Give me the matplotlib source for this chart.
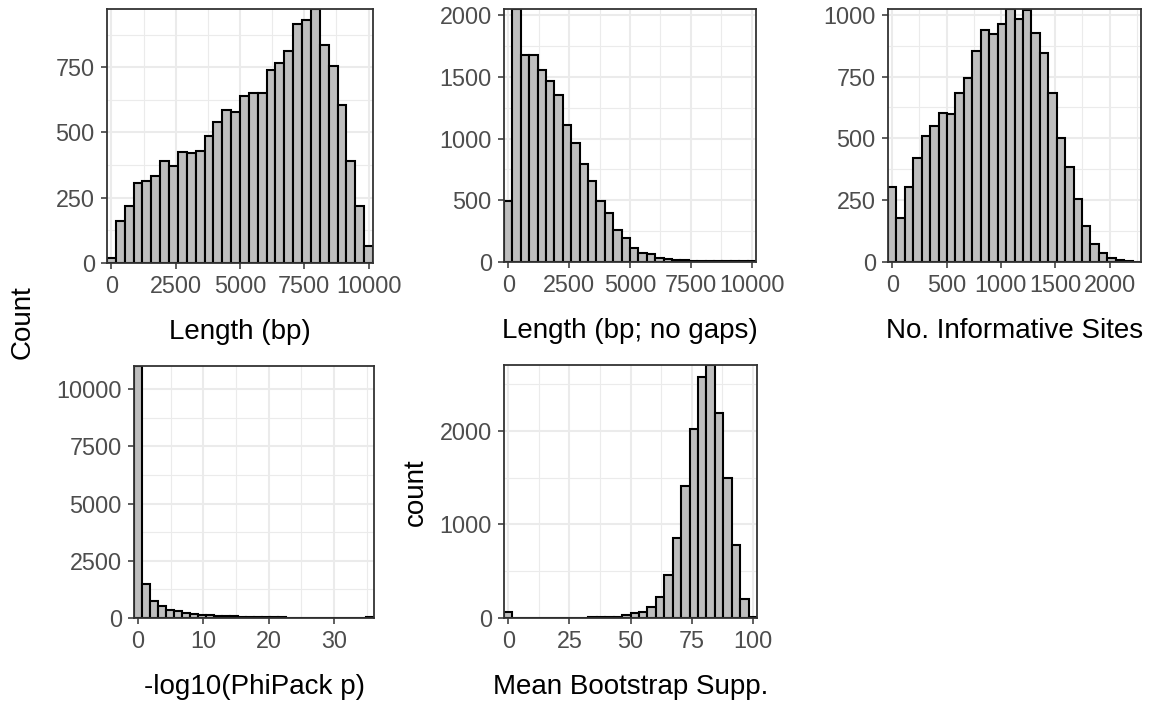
import numpy as np
import matplotlib
matplotlib.use('Agg')
import matplotlib.pyplot as plt
from matplotlib.ticker import MultipleLocator

plt.rcParams['font.family'] = ['Liberation Sans', 'DejaVu Sans']

# ---- data: 30-bin histograms (data range, counts per bin) ----
len_range = (0, 10000)
len_counts = [20, 159, 218, 308, 315, 335, 389, 370, 426, 420,
              430, 488, 541, 586, 580, 639, 650, 653, 740, 768,
              811, 915, 932, 973, 836, 756, 607, 389, 219, 65]

nogap_range = (0, 10000)
nogap_counts = [496, 2050, 1675, 1675, 1558, 1463, 1355, 1111, 967, 791,
                658, 496, 393, 263, 195, 114, 76, 62, 30, 24,
                16, 14, 11, 8, 8, 5, 5, 8, 5, 5]

inf_range = (0, 2250)
inf_counts = [304, 176, 304, 419, 511, 551, 601, 599, 682, 746,
              855, 939, 921, 962, 1023, 983, 1020, 925, 844, 685,
              503, 385, 253, 145, 74, 38, 18, 7, 3, 1]

phi_range = (0, 35.5)
phi_counts = [11010, 1482, 756, 538, 363, 290, 218, 174, 145, 116,
              100, 82, 68, 56, 46, 38, 32, 27, 22, 18,
              15, 12, 10, 9, 8, 7, 6, 5, 8, 25]

boot_range = (0, 100)
boot_counts = [60, 3, 2, 2, 2, 3, 3, 4, 5, 5,
               6, 8, 10, 14, 27, 50, 68, 115, 222, 463,
               854, 1413, 2021, 2573, 2705, 2196, 1495, 776, 200, 7]

titles = ["Length (bp)", "Length (bp; no gaps)", "No. Informative Sites",
          "-log10(PhiPack p)", "Mean Bootstrap Supp."]
x_ticks = [[0, 2500, 5000, 7500, 10000],
           [0, 2500, 5000, 7500, 10000],
           [0, 500, 1000, 1500, 2000],
           [0, 10, 20, 30],
           [0, 25, 50, 75, 100]]
y_ticks = [[0, 250, 500, 750],
           [0, 500, 1000, 1500, 2000],
           [0, 250, 500, 750, 1000],
           [0, 2500, 5000, 7500, 10000],
           [0, 1000, 2000]]

ranges = [len_range, nogap_range, inf_range, phi_range, boot_range]
counts = [len_counts, nogap_counts, inf_counts, phi_counts, boot_counts]

# panel boxes in pixels: left, top, right, bottom
W, H = 1151, 709
boxes = [(107, 9, 373, 263),
         (504, 9, 756, 262),
         (888, 9, 1141, 262),
         (134, 366, 374, 618),
         (504, 365, 757, 618)]

fig = plt.figure(figsize=(W / 100, H / 100), dpi=100)

for i in range(5):
    l, t, r, b = boxes[i]
    ax = fig.add_axes([l / W, 1 - b / H, (r - l) / W, (b - t) / H])
    lo, hi = ranges[i]
    c = np.array(counts[i])
    bw = (hi - lo) / (len(c) - 1)
    centers = lo + bw * np.arange(len(c))
    ax.bar(centers, c, width=bw, color='#BEBEBE', edgecolor='black',
           linewidth=1.5, zorder=2)
    ax.set_xlim(lo - bw / 2, hi + bw / 2)
    ax.set_ylim(0, c.max())

    xt = x_ticks[i]
    yt = y_ticks[i]
    ax.set_xticks(xt)
    ax.set_yticks(yt)
    ax.set_xticklabels([str(v) for v in xt])
    ax.set_yticklabels([str(v) for v in yt])
    ax.xaxis.set_minor_locator(MultipleLocator((xt[1] - xt[0]) / 2))
    ax.yaxis.set_minor_locator(MultipleLocator((yt[1] - yt[0]) / 2))

    ax.grid(which='major', color='#EBEBEB', linewidth=1.5, zorder=0)
    ax.grid(which='minor', color='#EBEBEB', linewidth=0.8, zorder=0)
    ax.set_axisbelow(True)
    ax.tick_params(which='major', length=4.3, width=1.1, color='#333333',
                   pad=4.5, labelsize=16.8, labelcolor='#4D4D4D')
    ax.tick_params(which='minor', length=0)
    for sp in ax.spines.values():
        sp.set_color('#333333')
        sp.set_linewidth(1.3)
        sp.set_zorder(3)

    ax.set_xlabel(titles[i], fontsize=20, labelpad=15, color='black')

fig.text(23 / W, 1 - 322 / H, "Count", rotation=90, fontsize=20,
         ha='center', va='center')
fig.text(416 / W, 1 - 492 / H, "count", rotation=90, fontsize=20,
         ha='center', va='center')

fig.savefig('out.png', dpi=100)
